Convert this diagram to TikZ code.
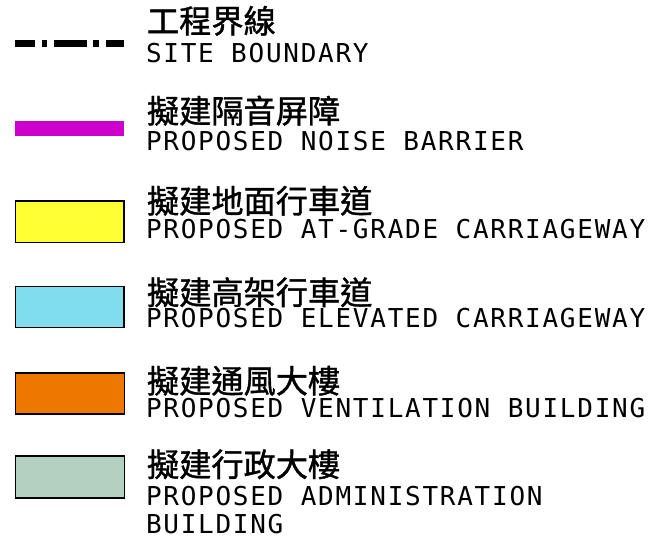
\documentclass[tikz,border=0pt]{standalone}
\usepackage{fontspec}
\newfontfamily\cjk[FakeBold=1.2]{Noto Sans CJK TC}
\newfontfamily\monofnt[LetterSpace=6.7]{DejaVu Sans Mono}
\definecolor{barmag}{HTML}{CC00CC}
\definecolor{fillyel}{HTML}{FFFF33}
\definecolor{fillcyan}{HTML}{7FDDED}
\definecolor{fillorange}{HTML}{EE7700}
\definecolor{fillgreen}{HTML}{B3D1C1}
\tikzset{
  cntext/.style={anchor=base west,inner sep=0pt,outer sep=0pt,font=\cjk\fontsize{32.2}{34}\selectfont},
  entext/.style={anchor=base west,inner sep=0pt,outer sep=0pt,font=\monofnt\fontsize{26}{28}\selectfont},
  swatch/.style={draw=black,line width=1.6pt},
  dashseg/.style={fill=black}
}
\begin{document}
\begin{tikzpicture}[x=1pt,y=-1pt]
\useasboundingbox (0,0) rectangle (649,538);
% Row 1: site boundary
\fill[dashseg] (15,40.3) rectangle (35,46.5);
\fill[dashseg] (41.7,40.3) rectangle (47.3,46.5);
\fill[dashseg] (54.3,40.3) rectangle (86.7,46.5);
\fill[dashseg] (93.3,40.3) rectangle (99.3,46.5);
\fill[dashseg] (106,40.3) rectangle (124,46.5);
\node[cntext] (cn1) at (147,33) {工程界線};
\node[entext] (en1) at (146,63) {SITE BOUNDARY};
% Row 2: noise barrier
\fill[barmag] (15,120.5) rectangle (124,136);
\node[cntext] (cn2) at (147,123) {擬建隔音屏障};
\node[entext] (en2) at (146,150) {PROPOSED NOISE BARRIER};
% Row 3
\draw[swatch,fill=fillyel] (15.5,200.8) rectangle (124,242.5);
\node[cntext] (cn3) at (147,213) {擬建地面行車道};
\node[entext] (en3) at (146,238) {PROPOSED AT-GRADE CARRIAGEWAY};
% Row 4
\draw[swatch,fill=fillcyan] (15.5,286.3) rectangle (124,327.5);
\node[cntext] (cn4) at (147,304.5) {擬建高架行車道};
\node[entext] (en4) at (146,327) {PROPOSED ELEVATED CARRIAGEWAY};
% Row 5
\draw[swatch,fill=fillorange] (15.5,372.7) rectangle (124.5,414);
\node[cntext] (cn5) at (147,393) {擬建通風大樓};
\node[entext] (en5) at (146,417) {PROPOSED VENTILATION BUILDING};
% Row 6
\draw[swatch,fill=fillgreen] (15.5,456.2) rectangle (124.5,497.7);
\node[cntext] (cn6) at (147,476.5) {擬建行政大樓};
\node[entext] (en6) at (146,505) {PROPOSED ADMINISTRATION};
\node[entext] (en7) at (146,533) {BUILDING};
\end{tikzpicture}
\end{document}
